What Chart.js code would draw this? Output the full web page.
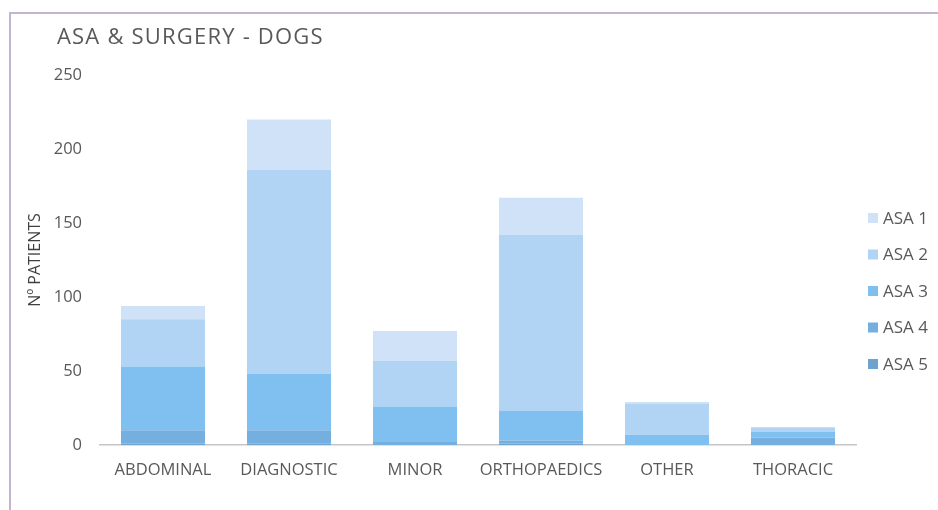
<!DOCTYPE html>
<html>
<head>
<meta charset="utf-8">
<script src="https://cdn.jsdelivr.net/npm/chart.js@4"></script>
<style>
  html, body { margin: 0; padding: 0; background: #fff; }
  #wrap { position: relative; width: 938px; height: 510px; overflow: hidden; }
  #frame { position: absolute; left: 9px; top: 12px; width: 1000px; height: 600px;
           border-left: 2px solid #c3b5cc; border-top: 2px solid #c3b5cc; box-sizing: border-box; }
  canvas { position: absolute; left: 0; top: 0; }
</style>
</head>
<body>
<div id="wrap">
  <div id="frame"></div>
  <canvas id="c" width="938" height="510"></canvas>
</div>
<script>
// Surgery categories and patient counts per ASA class (dogs)
const categories = ['ABDOMINAL', 'DIAGNOSTIC', 'MINOR', 'ORTHOPAEDICS', 'OTHER', 'THORACIC'];
const asa5 = [1, 1, 0, 1, 0, 0];
const asa4 = [9, 9, 2, 2, 0, 5];
const asa3 = [43, 38, 24, 20, 7, 4];
const asa2 = [32, 138, 31, 119, 21, 3];
const asa1 = [9, 34, 20, 25, 1, 0];
const yTicks = [0, 50, 100, 150, 200, 250];

const chartTitle = 'ASA & SURGERY - DOGS';
const yTitle = 'Nº PATIENTS';

const FONT = "'Open Sans', 'Noto Sans', sans-serif";
const TEXT = '#595959';

// Stacked bottom-up: ASA 5 first, ASA 1 on top
const series = [
  { label: 'ASA 5', data: asa5, color: '#6fa3cf' },
  { label: 'ASA 4', data: asa4, color: '#74afdf' },
  { label: 'ASA 3', data: asa3, color: '#7fc0f0' },
  { label: 'ASA 2', data: asa2, color: '#b1d3f4' },
  { label: 'ASA 1', data: asa1, color: '#cfe2f7' }
];

// Title and right-hand legend drawn on the canvas
const decorations = {
  id: 'decorations',
  afterDraw(chart) {
    const ctx = chart.ctx;
    ctx.save();
    ctx.fillStyle = TEXT;
    ctx.font = "22px " + FONT;
    ctx.letterSpacing = '1.2px';
    ctx.textBaseline = 'middle';
    ctx.textAlign = 'left';
    ctx.fillText(chartTitle, 57, 38);
    ctx.letterSpacing = '0px';

    ctx.font = "17px " + FONT;
    const items = chart.data.datasets.slice().reverse();
    items.forEach((ds, i) => {
      const y = 218 + i * 36.5;
      ctx.fillStyle = ds.backgroundColor;
      ctx.fillRect(868, y - 5, 10, 10);
      ctx.fillStyle = TEXT;
      ctx.fillText(ds.label, 883, y + 1);
    });
    ctx.restore();
  }
};

new Chart(document.getElementById('c'), {
  type: 'bar',
  data: {
    labels: categories,
    datasets: series.map(s => ({
      label: s.label,
      data: s.data,
      backgroundColor: s.color,
      borderWidth: 0,
      categoryPercentage: 1,
      barPercentage: 0.667
    }))
  },
  options: {
    responsive: false,
    animation: false,
    devicePixelRatio: 1,
    layout: { padding: { left: 26, right: 82, top: 75, bottom: 0 } },
    plugins: {
      legend: { display: false },
      title: { display: false },
      tooltip: { enabled: false }
    },
    scales: {
      x: {
        stacked: true,
        grid: { display: false, drawTicks: false },
        border: { display: true, color: '#c6c6c6', width: 1.5 },
        ticks: { color: TEXT, font: { family: FONT, size: 16.5 }, padding: 15, maxRotation: 0 },
        afterFit(scale) { scale.height = 65; }
      },
      y: {
        stacked: true,
        min: 0,
        max: 250,
        grid: { display: false, drawTicks: false },
        border: { display: false },
        afterBuildTicks(scale) { scale.ticks = yTicks.map(v => ({ value: v })); },
        ticks: { color: TEXT, font: { family: FONT, size: 16.5 }, padding: 18 },
        title: {
          display: true,
          text: yTitle,
          color: '#404040',
          font: { family: FONT, size: 16 },
          padding: { top: 0, bottom: 0 }
        },
        afterFit(scale) { scale.width = 74; }
      }
    }
  },
  plugins: [decorations]
});
</script>
</body>
</html>
